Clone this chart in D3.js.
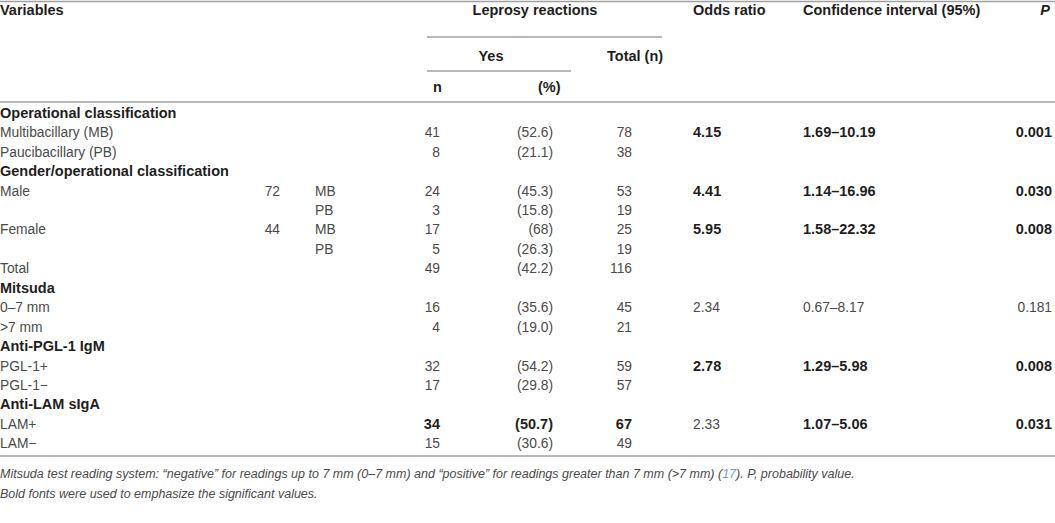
<!DOCTYPE html>
<html>
<head>
<meta charset="utf-8">
<script src="https://cdn.jsdelivr.net/npm/d3@7"></script>
<style>
  body { margin: 0; background: #fff; }
  svg { display: block; }
  .cell { font-family: "Liberation Sans", Arial, sans-serif; font-size: 13.8px; fill: #4a4a4a; }
  .bold { font-weight: bold; fill: #1e1e1e; font-size: 14.5px; }
  .note { font-family: "Liberation Sans", Arial, sans-serif; font-size: 12.5px; font-style: italic; fill: #4a4a4a; }
</style>
</head>
<body>
<div class="svg-wrap"></div>
<script>
// table content
let rowLabels = ["Operational classification", "Multibacillary (MB)", "Paucibacillary (PB)",
  "Gender/operational classification", "Male", "", "Female", "", "Total",
  "Mitsuda", "0–7 mm", ">7 mm", "Anti-PGL-1 IgM", "PGL-1+", "PGL-1−",
  "Anti-LAM sIgA", "LAM+", "LAM−"];
let groupCounts = ["", "", "", "", "72", "", "44", "", "", "", "", "", "", "", "", "", "", ""];
let subGroups = ["", "", "", "", "MB", "PB", "MB", "PB", "", "", "", "", "", "", "", "", "", ""];
let nValues = ["", "41", "8", "", "24", "3", "17", "5", "49", "", "16", "4", "", "32", "17", "", "34", "15"];
let pctValues = ["", "(52.6)", "(21.1)", "", "(45.3)", "(15.8)", "(68)", "(26.3)", "(42.2)", "",
  "(35.6)", "(19.0)", "", "(54.2)", "(29.8)", "", "(50.7)", "(30.6)"];
let totals = ["", "78", "38", "", "53", "19", "25", "19", "116", "", "45", "21", "", "59", "57", "", "67", "49"];
let oddsRatios = ["", "4.15", "", "", "4.41", "", "5.95", "", "", "", "2.34", "", "", "2.78", "", "", "2.33", ""];
let ciValues = ["", "1.69–10.19", "", "", "1.14–16.96", "", "1.58–22.32", "", "", "",
  "0.67–8.17", "", "", "1.29–5.98", "", "", "1.07–5.06", ""];
let pValues = ["", "0.001", "", "", "0.030", "", "0.008", "", "", "", "0.181", "", "", "0.008", "", "", "0.031", ""];

let headerRows = [0, 3, 9, 12, 15];
let boldCells = ["1:odds", "1:ci", "1:p", "4:odds", "4:ci", "4:p", "6:odds", "6:ci", "6:p",
  "13:odds", "13:ci", "13:p", "16:n", "16:pct", "16:total", "16:ci", "16:p"];

var width = 1055, height = 523;

let svg = d3.select(".svg-wrap")
  .append("svg")
  .attr("width", width)
  .attr("height", height);

// row positions
let y = d3.scaleBand()
  .domain(d3.range(rowLabels.length))
  .range([103, 453]);

// columns: key, x, anchor
let columns = [
  { key: "label", values: rowLabels, x: 0, anchor: "start" },
  { key: "group", values: groupCounts, x: 280, anchor: "end" },
  { key: "sub", values: subGroups, x: 315, anchor: "start" },
  { key: "n", values: nValues, x: 440, anchor: "end" },
  { key: "pct", values: pctValues, x: 553, anchor: "end" },
  { key: "total", values: totals, x: 632, anchor: "end" },
  { key: "odds", values: oddsRatios, x: 693, anchor: "start" },
  { key: "ci", values: ciValues, x: 803, anchor: "start" },
  { key: "p", values: pValues, x: 1052, anchor: "end" }
];

function drawLine(x1, x2, yy) {
  svg.append("line")
    .attr("x1", x1).attr("x2", x2)
    .attr("y1", yy).attr("y2", yy)
    .attr("stroke", "#a0a0a0")
    .attr("stroke-width", 1.5);
}

// header
drawLine(0, width, 1.5);
drawLine(427, 662, 37);
drawLine(427, 571, 71);
drawLine(0, width, 102);
drawLine(0, width, 456);

let header = [
  { t: "Variables", x: 0, y: 15, a: "start" },
  { t: "Leprosy reactions", x: 535, y: 15, a: "middle" },
  { t: "Odds ratio", x: 693, y: 15, a: "start" },
  { t: "Confidence interval (95%)", x: 803, y: 15, a: "start" },
  { t: "Yes", x: 491, y: 61, a: "middle" },
  { t: "Total (n)", x: 607, y: 61, a: "start" },
  { t: "n", x: 433, y: 92, a: "start" },
  { t: "(%)", x: 538, y: 92, a: "start" }
];

svg.selectAll(".head")
  .data(header)
  .enter()
  .append("text")
  .attr("class", "cell bold head")
  .attr("x", d => d.x)
  .attr("y", d => d.y)
  .style("text-anchor", d => d.a)
  .text(d => d.t);

svg.append("text")
  .attr("class", "cell bold")
  .attr("x", 1050)
  .attr("y", 15)
  .style("text-anchor", "end")
  .style("font-style", "italic")
  .text("P");

// body
columns.forEach(col => {
  svg.append("g")
    .selectAll("text")
    .data(col.values.map((v, i) => ({ v: v, i: i })).filter(d => d.v !== ""))
    .enter()
    .append("text")
    .attr("class", d => {
      let isBold = (col.key === "label" && headerRows.includes(d.i)) ||
        boldCells.includes(d.i + ":" + col.key);
      return isBold ? "cell bold" : "cell";
    })
    .attr("x", col.x)
    .attr("y", d => y(d.i) + y.bandwidth() / 2 + 5)
    .style("text-anchor", col.anchor)
    .text(d => d.v);
});

// footnotes
let note1 = svg.append("text")
  .attr("class", "note")
  .attr("x", 0)
  .attr("y", 478);
note1.append("tspan").text("Mitsuda test reading system: \u201cnegative\u201d for readings up to 7 mm (0\u20137 mm) and \u201cpositive\u201d for readings greater than 7 mm (>7 mm) (");
note1.append("tspan").style("fill", "#6a9fd4").text("17");
note1.append("tspan").text("). P, probability value.");

svg.append("text")
  .attr("class", "note")
  .attr("x", 0)
  .attr("y", 498)
  .text("Bold fonts were used to emphasize the significant values.");
</script>
</body>
</html>
